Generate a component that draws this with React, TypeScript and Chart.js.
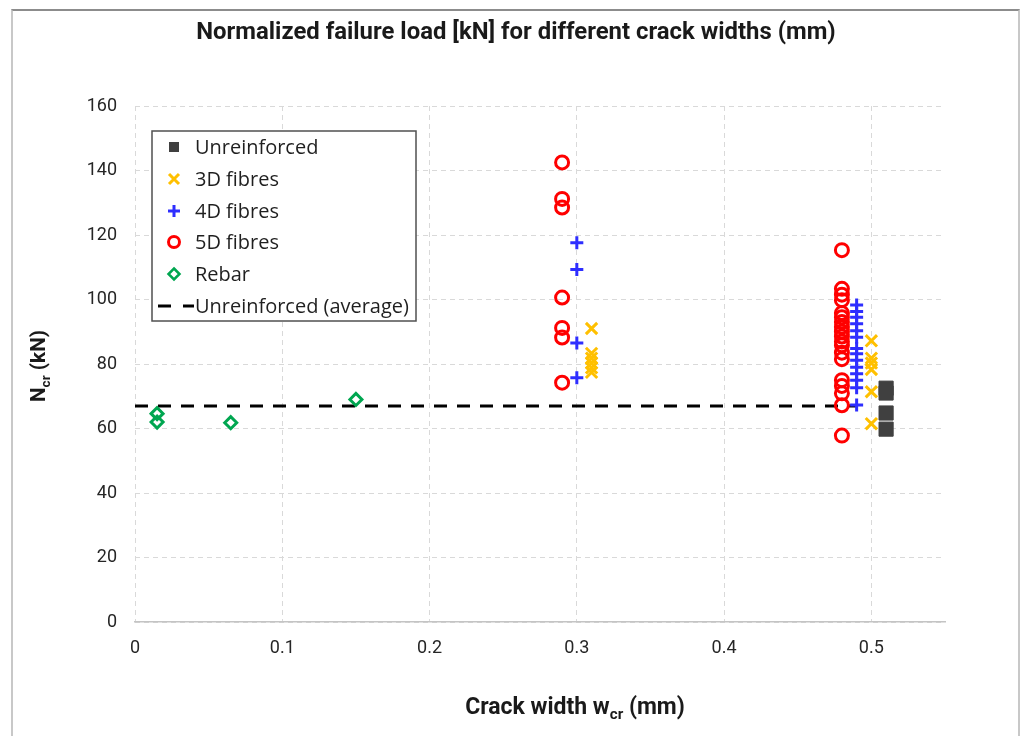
import React, { useEffect, useRef } from "react";
import { Chart, registerables } from "chart.js";

Chart.register(...registerables);

const FONT = "Roboto, 'Liberation Sans', Arial, sans-serif";
const LEGEND_FONT = "'Open Sans', Roboto, Arial, sans-serif";

const chartTitle = "Normalized failure load [kN] for different crack widths (mm)";
const xTitleParts = ["Crack width w", "cr", " (mm)"];
const yTitleParts = ["N", "cr", " (kN)"];

const xMin = 0;
const xMax = 0.55;
const xStep = 0.1;
const yMin = 0;
const yMax = 160;
const yStep = 20;

const seriesNames = ["Unreinforced", "3D fibres", "4D fibres", "5D fibres", "Rebar", "Unreinforced (average)"];

const unreinforcedX = [0.51, 0.51, 0.51, 0.51];
const unreinforcedY = [72.5, 71.0, 64.8, 59.8];

const fibres3DX = [0.31, 0.31, 0.31, 0.31, 0.31, 0.31, 0.5, 0.5, 0.5, 0.5, 0.5, 0.5];
const fibres3DY = [91.0, 83.3, 81.8, 80.3, 78.8, 77.4, 87.2, 81.8, 80.3, 78.3, 71.4, 61.5];

const fibres4DX = [0.3, 0.3, 0.3, 0.3, 0.49, 0.49, 0.49, 0.49, 0.49, 0.49, 0.49, 0.49, 0.49, 0.49, 0.49, 0.49, 0.49, 0.49];
const fibres4DY = [117.6, 109.3, 86.5, 75.7, 98.3, 96.3, 94.5, 92.5, 90.3, 88.3, 84.8, 83.2, 81.2, 79.0, 77.0, 75.0, 72.6, 67.3];

const fibres5DX = [0.29, 0.29, 0.29, 0.29, 0.29, 0.29, 0.29, 0.48, 0.48, 0.48, 0.48, 0.48, 0.48, 0.48, 0.48, 0.48, 0.48, 0.48, 0.48, 0.48, 0.48, 0.48, 0.48, 0.48, 0.48, 0.48];
const fibres5DY = [142.5, 131.2, 128.5, 100.6, 91.2, 88.2, 74.2, 115.3, 103.3, 101.5, 99.8, 95.8, 94.5, 93.0, 91.5, 90.0, 88.5, 87.0, 85.8, 83.5, 81.5, 75.0, 73.2, 70.9, 67.2, 57.8];

const rebarX = [0.015, 0.015, 0.065, 0.15];
const rebarY = [64.6, 62.0, 61.8, 69.0];

const averageX = [0, 0.49];
const averageY = [67, 67];

const COL_UNR = "#404040";
const COL_3D = "#FFC000";
const COL_4D = "#2E2EFF";
const COL_5D = "#FF0000";
const COL_REBAR = "#00A650";

const zip = (xs: number[], ys: number[]) => xs.map((x, i) => ({ x, y: ys[i] }));

function fitSize(ctx: CanvasRenderingContext2D, text: string, weight: string, family: string, target: number, maxSize: number) {
  ctx.font = `${weight} 20px ${family}`;
  const w = ctx.measureText(text).width;
  return Math.min(maxSize, (20 * target) / w);
}

function drawSubText(ctx: CanvasRenderingContext2D, parts: string[], cx: number, cy: number, size: number) {
  const mainFont = `bold ${size}px ${FONT}`;
  const subFont = `bold ${size * 0.66}px ${FONT}`;
  ctx.font = mainFont;
  const w0 = ctx.measureText(parts[0]).width;
  const w2 = ctx.measureText(parts[2]).width;
  ctx.font = subFont;
  const w1 = ctx.measureText(parts[1]).width;
  const total = w0 + w1 + w2;
  let x = cx - total / 2;
  ctx.textAlign = "left";
  ctx.textBaseline = "middle";
  ctx.font = mainFont;
  ctx.fillText(parts[0], x, cy);
  x += w0;
  ctx.font = subFont;
  ctx.fillText(parts[1], x, cy + size * 0.3);
  x += w1;
  ctx.font = mainFont;
  ctx.fillText(parts[2], x, cy);
}

function subWidth(ctx: CanvasRenderingContext2D, parts: string[], size: number) {
  ctx.font = `bold ${size}px ${FONT}`;
  const a = ctx.measureText(parts[0] + parts[2]).width;
  ctx.font = `bold ${size * 0.66}px ${FONT}`;
  return a + ctx.measureText(parts[1]).width;
}

const overlayPlugin = {
  id: "overlay",
  afterDraw(chart: any) {
    const ctx: CanvasRenderingContext2D = chart.ctx;
    ctx.save();
    ctx.fillStyle = "#1a1a1a";
    const tSize = fitSize(ctx, chartTitle, "bold", FONT, 640, 24);
    ctx.font = `bold ${tSize}px ${FONT}`;
    ctx.textAlign = "center";
    ctx.textBaseline = "middle";
    ctx.fillText(chartTitle, 516, 33);

    const xs = Math.min(23, (20 * 225) / subWidth(ctx, xTitleParts, 20));
    drawSubText(ctx, xTitleParts, 575, 708, xs);

    const ys = Math.min(23, (20 * 72) / subWidth(ctx, yTitleParts, 20));
    ctx.save();
    ctx.translate(40, 366);
    ctx.rotate(-Math.PI / 2);
    drawSubText(ctx, yTitleParts, 0, 0, ys);
    ctx.restore();

    // legend
    const bx = 152, by = 131, bw = 264, bh = 190;
    ctx.fillStyle = "#ffffff";
    ctx.fillRect(bx, by, bw, bh);
    ctx.strokeStyle = "#505050";
    ctx.lineWidth = 1.5;
    ctx.strokeRect(bx, by, bw, bh);
    const rows = [147, 179, 211, 242, 274, 306];
    const mx = 174;
    const lSize = fitSize(ctx, seriesNames[5], "normal", LEGEND_FONT, 214, 21);
    ctx.font = `${lSize}px ${LEGEND_FONT}`;
    ctx.fillStyle = "#1f1f1f";
    ctx.textAlign = "left";
    ctx.textBaseline = "middle";
    seriesNames.forEach((name, i) => {
      ctx.fillText(name, 195, rows[i] + 1);
    });
    ctx.lineCap = "butt";
    // square
    ctx.fillStyle = COL_UNR;
    ctx.fillRect(mx - 5, rows[0] - 5, 10, 10);
    // x
    ctx.strokeStyle = COL_3D;
    ctx.lineWidth = 3;
    ctx.beginPath();
    ctx.moveTo(mx - 5, rows[1] - 5); ctx.lineTo(mx + 5, rows[1] + 5);
    ctx.moveTo(mx + 5, rows[1] - 5); ctx.lineTo(mx - 5, rows[1] + 5);
    ctx.stroke();
    // +
    ctx.strokeStyle = COL_4D;
    ctx.beginPath();
    ctx.moveTo(mx - 6, rows[2]); ctx.lineTo(mx + 6, rows[2]);
    ctx.moveTo(mx, rows[2] - 6); ctx.lineTo(mx, rows[2] + 6);
    ctx.stroke();
    // circle
    ctx.strokeStyle = COL_5D;
    ctx.beginPath();
    ctx.arc(mx, rows[3], 5.5, 0, Math.PI * 2);
    ctx.stroke();
    // diamond
    ctx.strokeStyle = COL_REBAR;
    ctx.lineWidth = 2.5;
    ctx.beginPath();
    ctx.moveTo(mx, rows[4] - 5.5); ctx.lineTo(mx + 5.5, rows[4]);
    ctx.lineTo(mx, rows[4] + 5.5); ctx.lineTo(mx - 5.5, rows[4]);
    ctx.closePath();
    ctx.stroke();
    // dashed line sample
    ctx.strokeStyle = "#000000";
    ctx.lineWidth = 3;
    ctx.beginPath();
    ctx.moveTo(158, rows[5]); ctx.lineTo(171, rows[5]);
    ctx.moveTo(183, rows[5]); ctx.lineTo(194, rows[5]);
    ctx.stroke();
    ctx.restore();
  },
};

export default function App() {
  const canvasRef = useRef<HTMLCanvasElement | null>(null);

  useEffect(() => {
    const canvas = canvasRef.current;
    if (!canvas) return;
    const chart = new Chart(canvas, {
      type: "scatter",
      data: {
        datasets: [
          {
            label: seriesNames[0],
            data: zip(unreinforcedX, unreinforcedY),
            pointStyle: "rect",
            radius: 10,
            backgroundColor: COL_UNR,
            borderColor: COL_UNR,
            borderWidth: 1,
            order: 1,
          },
          {
            label: seriesNames[1],
            data: zip(fibres3DX, fibres3DY),
            pointStyle: "crossRot",
            radius: 8,
            borderColor: COL_3D,
            backgroundColor: COL_3D,
            borderWidth: 3,
            order: 2,
          },
          {
            label: seriesNames[2],
            data: zip(fibres4DX, fibres4DY),
            pointStyle: "cross",
            radius: 6.5,
            borderColor: COL_4D,
            backgroundColor: COL_4D,
            borderWidth: 3,
            order: 3,
          },
          {
            label: seriesNames[3],
            data: zip(fibres5DX, fibres5DY),
            pointStyle: "circle",
            radius: 6.5,
            borderColor: COL_5D,
            backgroundColor: "rgba(255,255,255,0)",
            borderWidth: 3,
            order: 4,
          },
          {
            label: seriesNames[4],
            data: zip(rebarX, rebarY),
            pointStyle: "rectRot",
            radius: 6,
            borderColor: COL_REBAR,
            backgroundColor: "rgba(255,255,255,0)",
            borderWidth: 3,
            order: 5,
          },
          {
            label: seriesNames[5],
            type: "line",
            data: zip(averageX, averageY),
            borderColor: "#000000",
            borderWidth: 3,
            borderDash: [13, 10],
            pointRadius: 0,
            fill: false,
            order: 6,
          } as any,
        ],
      },
      options: {
        responsive: false,
        animation: false,
        devicePixelRatio: 1,
        layout: { padding: { top: 106, right: 78, bottom: 0, left: 0 } },
        plugins: {
          legend: { display: false },
          title: { display: false },
          tooltip: { enabled: false },
        },
        scales: {
          x: {
            type: "linear",
            min: xMin,
            max: xMax,
            afterFit: (s: any) => { s.height = 114; },
            afterBuildTicks: (s: any) => {
              const t = [];
              for (let v = xMin; v <= 0.5 + 1e-9; v += xStep) t.push({ value: Math.round(v * 10) / 10 });
              s.ticks = t;
            },
            ticks: {
              color: "#262626",
              font: { family: FONT, size: 18 },
              padding: 16,
              callback: (v: any) => String(Math.round(Number(v) * 10) / 10),
            },
            grid: { color: "#d9d9d9", lineWidth: 1, drawTicks: false },
            border: { display: true, color: "#c4c4c4", width: 1.5, dash: [5, 4] },
          },
          y: {
            type: "linear",
            min: yMin,
            max: yMax,
            afterFit: (s: any) => { s.width = 135; },
            ticks: {
              stepSize: yStep,
              color: "#262626",
              font: { family: FONT, size: 18 },
              padding: 18,
            },
            grid: { color: "#d9d9d9", lineWidth: 1, drawTicks: false },
            border: { display: false, dash: [5, 4] },
          },
        },
      },
      plugins: [overlayPlugin],
    } as any);
    return () => chart.destroy();
  }, []);

  return (
    <div style={{ position: "fixed", left: 0, top: 0, width: 1023, height: 736, background: "#ffffff", overflow: "hidden" }}>
      <div
        style={{
          position: "absolute",
          left: 11,
          top: 9,
          width: 1005,
          height: 760,
          borderTop: "2px solid #8c8c8c",
          borderLeft: "2px solid #c8c8c8",
          borderRight: "2px solid #c8c8c8",
        }}
      />
      <canvas ref={canvasRef} width={1023} height={736} style={{ position: "absolute", left: 0, top: 0, width: 1023, height: 736 }} />
    </div>
  );
}
